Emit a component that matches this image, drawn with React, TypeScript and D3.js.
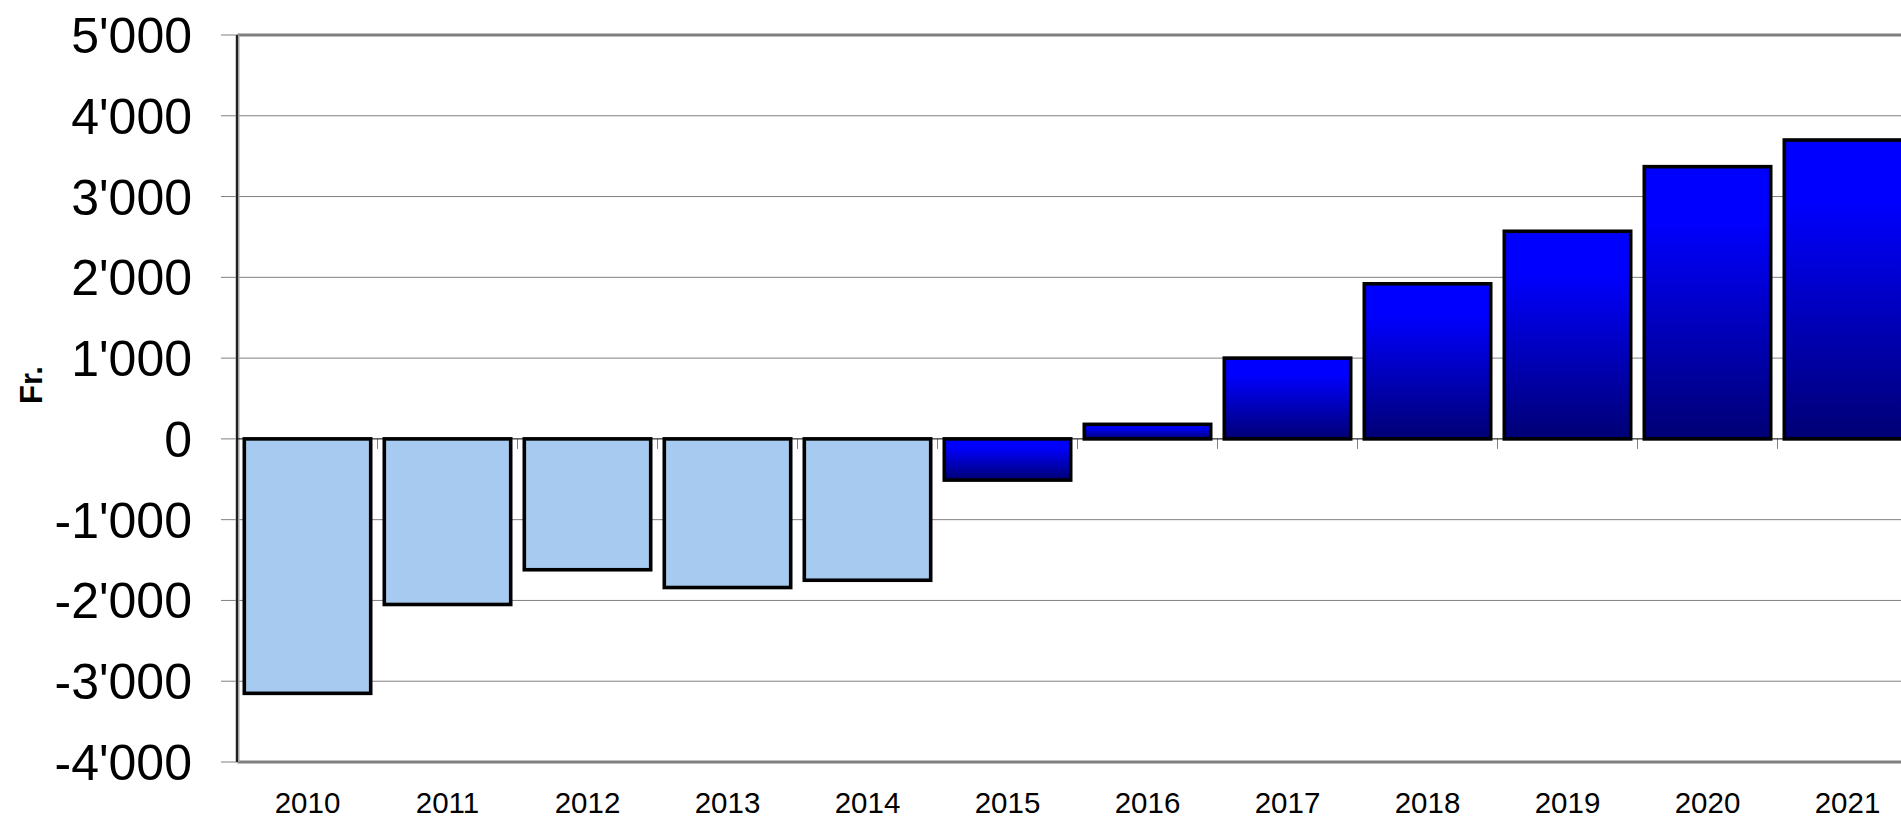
import React from "react";
import * as d3 from "d3";

const years = ["2010","2011","2012","2013","2014","2015","2016","2017","2018","2019","2020","2021"];
const values = [-3150, -2050, -1620, -1840, -1750, -510, 180, 1000, 1920, 2570, 3370, 3700];
const highlighted = [false, false, false, false, false, true, true, true, true, true, true, true];
const yTicks = [-4000, -3000, -2000, -1000, 0, 1000, 2000, 3000, 4000, 5000];

const W = 1901, H = 820;
const left = 237.5, top = 35, bottom = 762;

const fmt = (v: number) => {
  const s = Math.abs(v).toString().replace(/\B(?=(\d{3})+(?!\d))/g, "'");
  return (v < 0 ? "-" : "") + s;
};

export default function App() {
  const x = d3.scaleBand<string>().domain(years).range([left, left + 140 * years.length]).paddingInner(10 / 140).paddingOuter(5 / 140);
  const y = d3.scaleLinear().domain([-4000, 5000]).range([bottom, top]);
  const right = left + 140 * years.length;
  const step = x.step();
  const sw = 3.6;
  return (
    <svg width={W} height={H} style={{ position: "absolute", left: 0, top: 0, background: "#fff" }}>
      <defs>
        <linearGradient id="blueGrad" x1="0" y1="0" x2="0" y2="1">
          <stop offset="0%" stopColor="#0000ff" />
          <stop offset="20%" stopColor="#0000ff" />
          <stop offset="100%" stopColor="#000074" />
        </linearGradient>
      </defs>
      {yTicks.filter(t => t !== -4000 && t !== 5000 && t !== 0).map(t => (
        <line key={t} x1={left} x2={right} y1={y(t)} y2={y(t)} stroke="#808080" strokeWidth={1} />
      ))}
      {yTicks.map(t => (
        <line key={"tk" + t} x1={221} x2={left} y1={y(t)} y2={y(t)} stroke="#808080" strokeWidth={1} />
      ))}
      {years.map((yr, i) => (
        <line key={"xt" + yr} x1={left + i * step} x2={left + i * step} y1={y(0)} y2={y(0) + 10} stroke="#808080" strokeWidth={1} />
      ))}
      <line x1={left} x2={right} y1={top} y2={top} stroke="#808080" strokeWidth={3} />
      <line x1={left} x2={right} y1={bottom} y2={bottom} stroke="#808080" strokeWidth={3} />
      <line x1={left} x2={left} y1={top} y2={bottom} stroke="#a0a0a0" strokeWidth={4} />
      <line x1={left - 0.5} x2={left - 0.5} y1={top} y2={bottom} stroke="#202020" strokeWidth={2} />
      <line x1={left} x2={right} y1={y(0)} y2={y(0)} stroke="#000" strokeWidth={1} />
      {years.map((yr, i) => {
        const v = values[i];
        const x0 = (x(yr) as number) + sw / 2;
        const w = x.bandwidth() - sw;
        const y0 = Math.min(y(v), y(0));
        const h = Math.abs(y(v) - y(0));
        return (
          <rect key={yr} x={x0} y={y0} width={w} height={h}
            fill={highlighted[i] ? "url(#blueGrad)" : "#a7caf0"}
            stroke="#000" strokeWidth={sw} />
        );
      })}
      {yTicks.map(t => (
        <text key={"yl" + t} x={192} y={y(t) + 18} textAnchor="end"
          fontFamily="'Liberation Sans', Arial, sans-serif" fontSize={50} fill="#000">{fmt(t)}</text>
      ))}
      {years.map(yr => (
        <text key={"xl" + yr} x={(x(yr) as number) + x.bandwidth() / 2} y={813} textAnchor="middle"
          fontFamily="'Liberation Sans', Arial, sans-serif" fontSize={29.5} fill="#000">{yr}</text>
      ))}
      <text transform={`translate(42,385) rotate(-90)`} textAnchor="middle"
        fontFamily="'Liberation Sans', Arial, sans-serif" fontSize={31} fontWeight="bold" fill="#000">Fr.</text>
    </svg>
  );
}
